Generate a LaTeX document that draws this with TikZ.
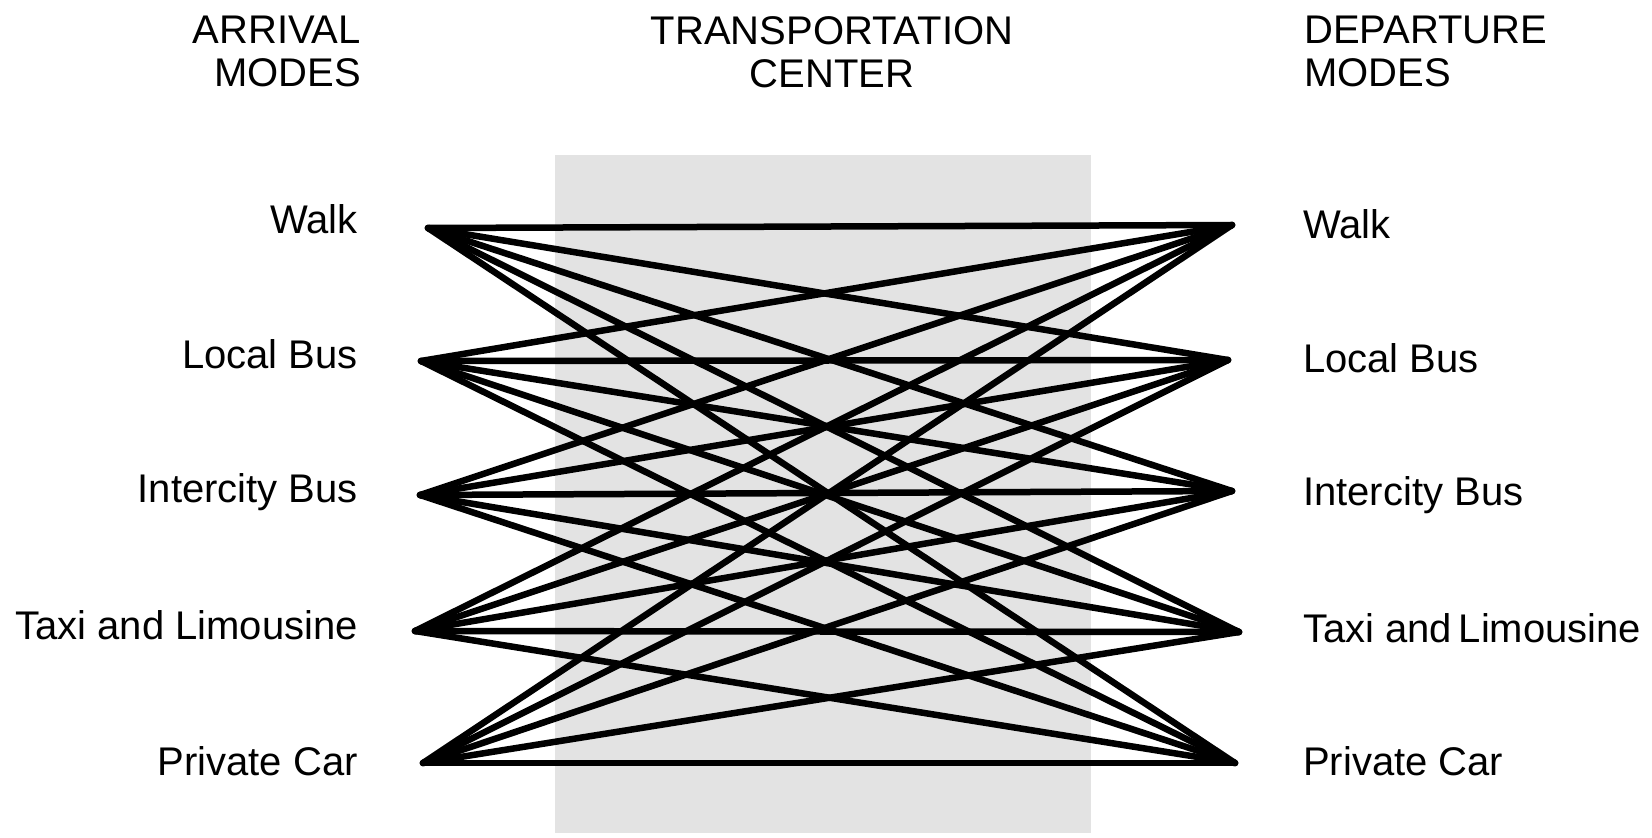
\documentclass[tikz,border=0pt]{standalone}
\usepackage{fontspec}
\setmainfont{Liberation Sans}
\begin{document}
\begin{tikzpicture}[x=1pt,y=-1pt,
  link/.style={line width=6.5pt,line cap=round},
  head/.style={inner sep=0pt,font=\fontsize{40}{43}\selectfont},
  mode/.style={inner sep=0pt,font=\fontsize{40}{43}\selectfont}]
\useasboundingbox (0,0) rectangle (1652,838);
\fill[black!11] (555,155) rectangle (1091,833);
% column heads
\node[head,anchor=north east,align=right] (arrhead) at (361,16) {ARRIVAL\\MODES};
\node[head,anchor=north,align=center] (centhead) at (832,16) {TRANSPORTATION\\CENTER};
\node[head,anchor=north west,align=left] (dephead) at (1304,16) {DEPARTURE\\MODES};
% end points of the links
\foreach \n/\xa/\ya/\xd/\yd in {W/428/228/1232/225, L/421/361/1228/360,
  I/420/495/1232/491, T/415/631/1239/632, C/423/763/1235/763}{
  \coordinate (a\n) at (\xa,\ya);
  \coordinate (d\n) at (\xd,\yd);
}
% mode labels
\foreach \ta/\ya/\td/\yd [count=\i] in {Walk/233/Walk/238,
  Local Bus/368/Local Bus/372, Intercity Bus/502/Intercity Bus/505,
  Taxi and Limousine/639/Taxi and\,Limousine/642, Private Car/775/Private Car/775}{
  \node[mode,anchor=base east] (larr\i) at (358,\ya) {\ta};
  \node[mode,anchor=base west] (ldep\i) at (1303,\yd) {\td};
}
% every arrival mode to every departure mode
\foreach \a in {W,L,I,T,C}
  \foreach \d in {W,L,I,T,C}
    \draw[link] (a\a) -- (d\d);
\end{tikzpicture}
\end{document}
